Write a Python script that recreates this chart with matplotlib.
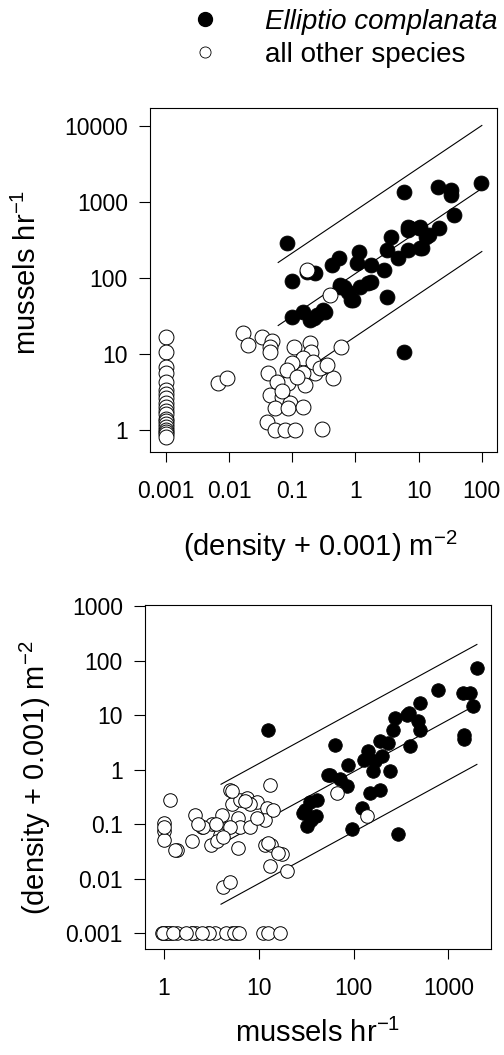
# Catch rate vs density, Elliptio complanata vs all other species (log-log, two panels)

import numpy as np
import matplotlib
matplotlib.use('Agg')
from matplotlib import pyplot as plt
from matplotlib.lines import Line2D
from matplotlib.ticker import NullLocator

plt.rcParams['font.family'] = 'Liberation Sans'
plt.rcParams['mathtext.fontset'] = 'custom'
plt.rcParams['mathtext.rm'] = 'Liberation Sans'
plt.rcParams['mathtext.it'] = 'Liberation Sans:italic'
plt.rcParams['mathtext.default'] = 'regular'

# ---- top panel: mussels/hr vs (density + 0.001) ----
top_ell_dens = [0.083, 0.1, 0.23, 0.43, 0.54, 1.12, 1.07, 1.74, 2.8, 3.6, 3.2, 4.7, 6.8, 10,
                6.9, 11.5, 14.5, 21, 5.8, 20, 32, 32, 36, 96, 0.58, 0.77, 0.93, 1.2, 1.6,
                3.2, 0.1, 0.15, 0.19, 0.31, 0.25, 0.22, 5.8, 0.17, 0.65, 0.84, 1.74, 0.58,
                7.4, 10.7, 10.7, 0.33, 13, 6.8]
top_ell_rate = [290, 91, 117, 148, 183, 219, 157, 148, 127, 346, 234, 183, 427, 456,
                234, 248, 370, 456, 1350, 1580, 1450, 1250, 680, 1780, 76, 66, 51, 76, 86,
                56, 31, 36, 28, 38, 33, 30, 10.7, 120, 76, 51, 88, 81,
                456, 470, 250, 36, 346, 470]

top_oth_dens = [0.001] * 20 + [
    0.0068, 0.0093, 0.0166, 0.02, 0.033, 0.048, 0.045, 0.045, 0.105, 0.19, 0.2, 0.15,
    0.6, 0.1, 0.3, 0.45, 0.23, 0.15, 0.087, 0.042, 0.058, 0.16, 0.045, 0.069, 0.092,
    0.054, 0.087, 0.15, 0.04, 0.054, 0.078, 0.11, 0.3, 0.39, 0.17, 0.21, 0.28, 0.36,
    0.083, 0.12, 0.07]
top_oth_rate = [17, 10.7, 6.8, 5.6, 4.3, 3.4, 3.0, 2.6, 2.3, 2.0, 1.8, 1.6, 1.4, 1.3,
                1.2, 1.1, 1.0, 0.95, 0.88, 0.82] + [
    4.2, 4.8, 19, 13, 17, 15, 12.4, 10.6, 12.4, 14, 10.6, 8.9,
    12.4, 7.6, 6.7, 4.8, 5.6, 5.6, 4.1, 5.6, 4.3, 3.9, 2.9, 2.7, 2.3,
    1.95, 1.95, 2.0, 1.27, 1.0, 1.0, 1.0, 1.03, 60, 126, 7.9, 6.5, 7.2,
    6.2, 5.0, 3.3]

# log10(rate) = a + b*log10(density), +/- band
top_fit = (2.06, 0.56, 0.83)
top_fit_range = (0.06, 100)

# ---- bottom panel: (density + 0.001) vs mussels/hr ----
bot_ell_rate = [12.6, 64, 54, 72, 88, 85, 35, 41, 29, 40, 32, 96, 297, 123, 150, 190,
                142, 170, 162, 190, 245, 233, 263, 275, 396, 380, 500, 480, 500, 780,
                1440, 1700, 1830, 1450, 1450, 2000, 31, 36, 57, 370, 200, 130]
bot_ell_dens = [5.4, 2.8, 0.81, 0.66, 1.2, 0.51, 0.25, 0.28, 0.16, 0.14, 0.094, 0.08,
                0.065, 0.2, 0.38, 0.43, 2.2, 1.46, 0.96, 3.4, 0.96, 3.1, 5.4, 8.9, 2.7,
                11, 17, 7.9, 5.4, 29, 25, 25, 14.7, 4.4, 3.6, 73, 0.18, 0.12, 0.8, 10,
                1.8, 1.5]

bot_oth_rate = [0.95, 1.07, 1.2, 1.38, 1.97, 2.2, 3.45, 5.2, 5.9, 11, 12.6, 16.7, 1.0,
                1.1, 2.0, 2.9, 3.0, 4.5, 5.5, 6.2, 0.98, 1.25, 1.7, 2.5] + [
    1.15, 1.0, 1.0, 1.0, 1.37, 2.1, 2.5, 2.0, 3.1, 3.2, 4.1, 4.4, 3.9, 5.2, 5.0, 6.3,
    7.5, 6.0, 6.3, 6.0, 8.1, 9.6, 12.2, 11.7, 14, 13, 11.7, 13.5, 17.6, 13, 20, 4.2,
    5.0, 67, 138, 8.1, 9.6, 5.0, 3.6, 1.3, 2.6, 4.2, 12.5, 16, 7.2, 5.2, 3.5, 2.3, 1.0]
bot_oth_dens = [0.001] * 24 + [
    0.28, 0.107, 0.076, 0.052, 0.034, 0.15, 0.087, 0.05, 0.042, 0.1, 0.15, 0.08, 0.062,
    0.23, 0.43, 0.28, 0.3, 0.13, 0.087, 0.037, 0.087, 0.25, 0.2, 0.117, 0.18, 0.53,
    0.042, 0.042, 0.028, 0.017, 0.014, 0.0069, 0.0086, 0.38, 0.14, 0.23, 0.13, 0.087,
    0.05, 0.034, 0.087, 0.057, 0.045, 0.03, 0.27, 0.41, 0.1, 0.1, 0.09]

# log10(density) = a + b*log10(rate), +/- band
bot_fit = (-1.94, 0.95, 1.1)
bot_fit_range = (4, 2000)

top_xticks = [0.001, 0.01, 0.1, 1, 10, 100]
top_xlabels = ['0.001', '0.01', '0.1', '1', '10', '100']
top_yticks = [1, 10, 100, 1000, 10000]
top_ylabels = ['1', '10', '100', '1000', '10000']
bot_xticks = [1, 10, 100, 1000]
bot_xlabels = ['1', '10', '100', '1000']
bot_yticks = [0.001, 0.01, 0.1, 1, 10, 100, 1000]
bot_ylabels = ['0.001', '0.01', '0.1', '1', '10', '100', '1000']


def fit_lines(ax, fit, xr):
    a, b, band = fit
    lx = np.log10(np.array(xr, dtype=float))
    for off in (-band, 0, band):
        ax.plot(10 ** lx, 10 ** (a + b * lx + off), c='black', lw=0.8, zorder=1)


def style(ax, xt, xl, yt, yl):
    ax.set_xscale('log')
    ax.set_yscale('log')
    ax.set_xticks(xt)
    ax.set_xticklabels(xl)
    ax.set_yticks(yt)
    ax.set_yticklabels(yl)
    ax.xaxis.set_minor_locator(NullLocator())
    ax.yaxis.set_minor_locator(NullLocator())
    ax.tick_params(axis='x', direction='out', length=7, width=0.8, pad=13, labelsize=16.5)
    ax.tick_params(axis='y', direction='out', length=8, width=0.8, pad=8, labelsize=16.5)
    for sp in ax.spines.values():
        sp.set_linewidth(0.8)


fig = plt.figure(figsize=(5.04, 10.55), dpi=100)

ax1 = fig.add_axes([150 / 504, 1 - 452 / 1055, 347 / 504, 344 / 1055])
fit_lines(ax1, top_fit, top_fit_range)
ax1.scatter(top_ell_dens, top_ell_rate, s=115, c='black', edgecolors='black', lw=0.6, zorder=2)
ax1.scatter(top_oth_dens, top_oth_rate, s=115, c='white', edgecolors='black', lw=0.7, zorder=3)
style(ax1, top_xticks, top_xlabels, top_yticks, top_ylabels)
ax1.set_xlim(10 ** -3.25, 10 ** 2.24)
ax1.set_ylim(10 ** -0.29, 10 ** 4.24)

ax2 = fig.add_axes([145 / 504, 1 - 949 / 1055, 346 / 504, 344 / 1055])
fit_lines(ax2, bot_fit, bot_fit_range)
ax2.scatter(bot_ell_rate, bot_ell_dens, s=95, c='black', edgecolors='black', lw=0.6, zorder=2)
ax2.scatter(bot_oth_rate, bot_oth_dens, s=95, c='white', edgecolors='black', lw=0.7, zorder=3)
style(ax2, bot_xticks, bot_xlabels, bot_yticks, bot_ylabels)
ax2.set_xlim(10 ** -0.2, 10 ** 3.45)
ax2.set_ylim(10 ** -3.29, 10 ** 3.02)

lab = 21
fig.text(27 / 504, 1 - 272 / 1055, 'mussels hr$^{-1}$', rotation=90, ha='center', va='center', fontsize=lab)
fig.text(320 / 504, 1 - 546 / 1055, '(density + 0.001) m$^{-2}$', ha='center', va='center', fontsize=lab)
fig.text(35 / 504, 1 - 778 / 1055, '(density + 0.001) m$^{-2}$', rotation=90, ha='center', va='center', fontsize=lab)
fig.text(318 / 504, 1 - 1033 / 1055, 'mussels hr$^{-1}$', ha='center', va='center', fontsize=lab)

h1 = Line2D([], [], marker='o', ls='none', mfc='black', mec='black', ms=10)
h2 = Line2D([], [], marker='o', ls='none', mfc='white', mec='black', ms=8, mew=0.6)
leg = fig.legend([h1, h2], ['Elliptio complanata', 'all other species'], loc='upper left',
                 bbox_to_anchor=(177 / 504, 1 + 5 / 1055), frameon=False, fontsize=20,
                 handletextpad=1.67, labelspacing=0.25, borderpad=0, handlelength=1.0)
leg.get_texts()[0].set_style('italic')

fig.savefig('out.png', dpi=100)
